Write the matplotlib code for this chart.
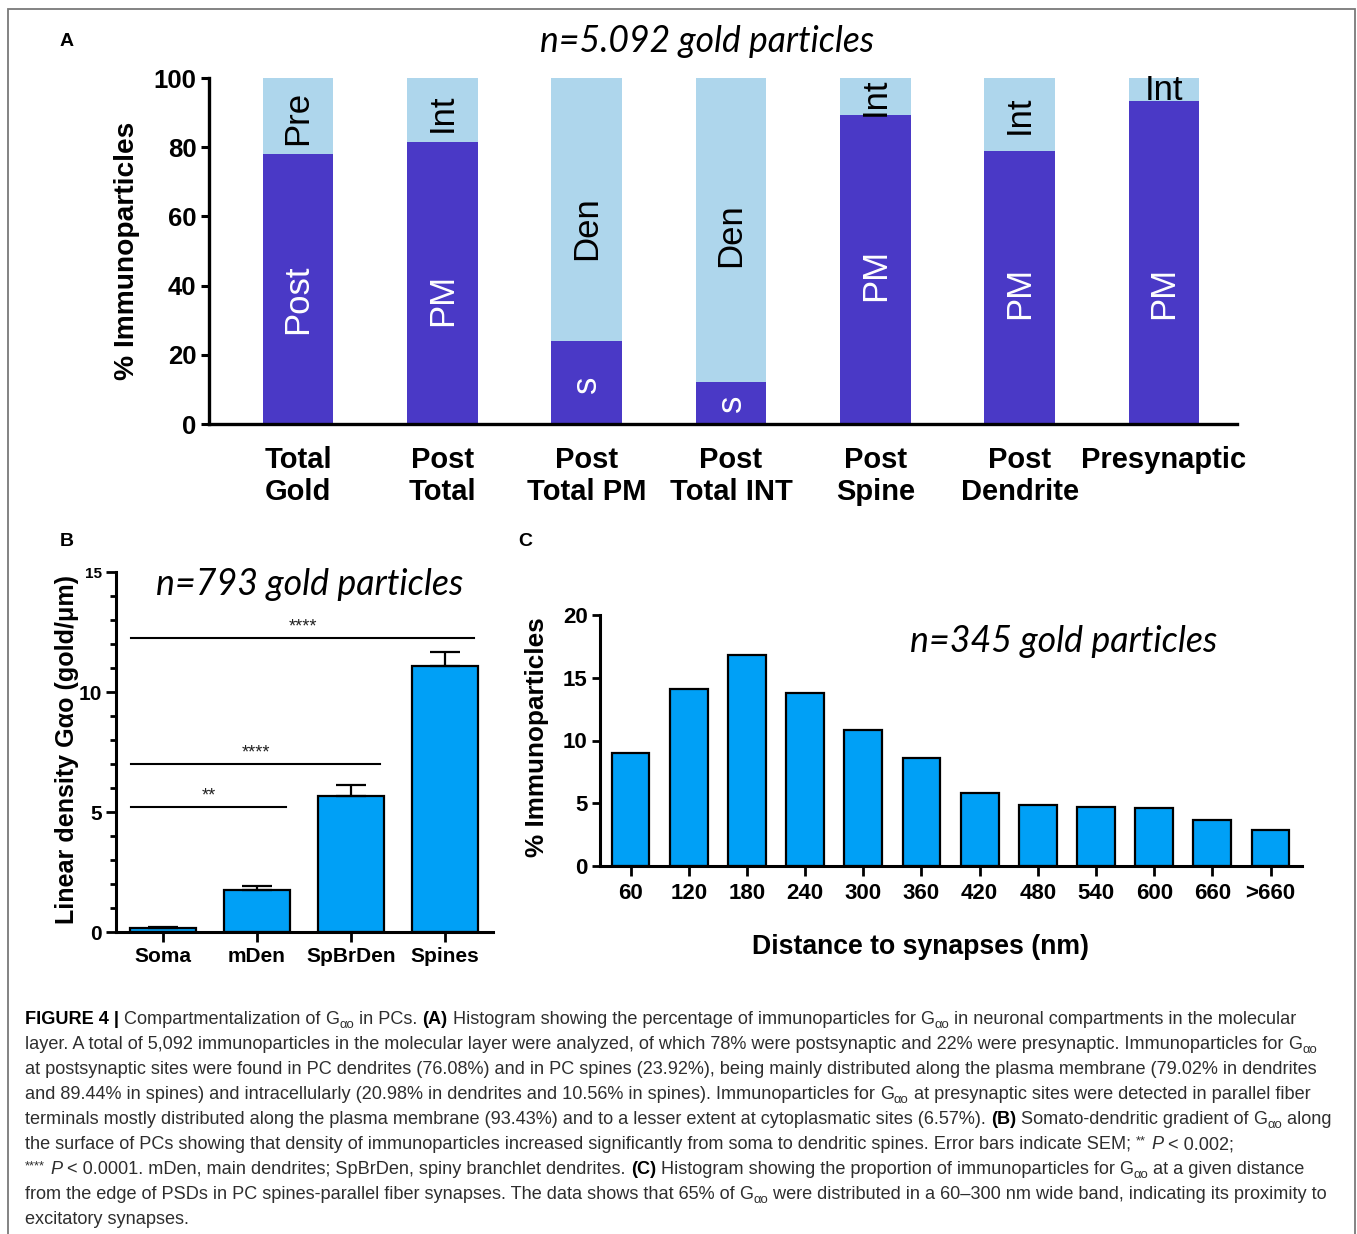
import re
import numpy as np
import matplotlib
matplotlib.use("Agg")
import matplotlib.pyplot as plt
from matplotlib import font_manager as fm
from matplotlib.patches import Rectangle

# ---------------- data ----------------
a_categories = ["Total\nGold", "Post\nTotal", "Post\nTotal PM", "Post\nTotal INT",
                "Post\nSpine", "Post\nDendrite", "Presynaptic"]
a_lower = [78.0, 81.5, 23.9, 12.1, 89.44, 79.02, 93.43]
a_lower_labels = ["Post", "PM", "s", "s", "PM", "PM", "PM"]
a_upper_labels = ["Pre", "Int", "Den", "Den", "Int", "Int", "Int"]

b_categories = ["Soma", "mDen", "SpBrDen", "Spines"]
b_means = [0.15, 1.75, 5.67, 11.1]
b_sem = [0.05, 0.15, 0.45, 0.55]
b_comparisons = [(0, 3, "****"), (0, 2, "****"), (0, 1, "**")]
b_comparison_levels = [12.25, 7.0, 5.2]

c_bins = ["60", "120", "180", "240", "300", "360", "420", "480", "540", "600", "660", ">660"]
c_percent = [9.0, 14.1, 16.8, 13.8, 10.8, 8.6, 5.8, 4.9, 4.7, 4.6, 3.7, 2.9]

caption_lines = [
    "<b>FIGURE 4 |</b> Compartmentalization of <G> in PCs. <b>(A)</b> Histogram showing the percentage of immunoparticles for <G> in neuronal compartments in the molecular",
    "layer. A total of 5,092 immunoparticles in the molecular layer were analyzed, of which 78% were postsynaptic and 22% were presynaptic. Immunoparticles for <G>",
    "at postsynaptic sites were found in PC dendrites (76.08%) and in PC spines (23.92%), being mainly distributed along the plasma membrane (79.02% in dendrites",
    "and 89.44% in spines) and intracellularly (20.98% in dendrites and 10.56% in spines). Immunoparticles for <G> at presynaptic sites were detected in parallel fiber",
    "terminals mostly distributed along the plasma membrane (93.43%) and to a lesser extent at cytoplasmatic sites (6.57%). <b>(B)</b> Somato-dendritic gradient of <G> along",
    "the surface of PCs showing that density of immunoparticles increased significantly from soma to dendritic spines. Error bars indicate SEM; <sup>**</sup> <i>P</i> < 0.002;",
    "<sup>****</sup> <i>P</i> < 0.0001. mDen, main dendrites; SpBrDen, spiny branchlet dendrites. <b>(C)</b> Histogram showing the proportion of immunoparticles for <G> at a given distance",
    "from the edge of PSDs in PC spines-parallel fiber synapses. The data shows that 65% of <G> were distributed in a 60\u2013300 nm wide band, indicating its proximity to",
    "excitatory synapses.",
]

# ---------------- styling ----------------
DARK = "#4a39c6"
LIGHT = "#aed6ec"
BLUE = "#00a0f6"
W, H = 1357, 1234

# vertical anchor (in % units) of the in-bar segment names
a_lower_label_at = [36, 36, 11.5, 6, 43, 38, 38]
a_upper_label_at = [88.5, 90, 56.5, 54.5, 94.5, 89.5, 96.5]

names = {f.name for f in fm.fontManager.ttflist}


def has_style(name, style):
    return any(f.name == name and f.style == style for f in fm.fontManager.ttflist)


SANS = "Liberation Sans" if "Liberation Sans" in names else "DejaVu Sans"
NARROW = "Liberation Sans Narrow" if "Liberation Sans Narrow" in names else SANS
ITALIC = next((n for n in ["Lato", "Open Sans", "Noto Sans", "Roboto", "Liberation Sans"]
               if has_style(n, "italic")), "DejaVu Sans")

plt.rcParams["font.family"] = [SANS, "DejaVu Sans"]

fig = plt.figure(figsize=(W / 100, H / 100), dpi=100)
R = fig.canvas.get_renderer()


def fx(px):
    return px / W


def fy(py):
    return 1 - py / H


def rect(l, t, r, b):
    return [l / W, 1 - b / H, (r - l) / W, (b - t) / H]


def fit(t, target, vertical=False):
    bb = t.get_window_extent(R)
    cur = bb.height if vertical else bb.width
    t.set_fontsize(t.get_fontsize() * target / cur)
    return t


def style_ticklabels(ax, size, which="both"):
    labels = []
    if which in ("both", "x"):
        labels += ax.get_xticklabels()
    if which in ("both", "y"):
        labels += ax.get_yticklabels()
    for lab in labels:
        lab.set_fontfamily(SANS)
        lab.set_fontweight("bold")
        lab.set_fontsize(size)


# frame around the figure
fig.add_artist(Rectangle((fx(8), fy(1250)), (1355 - 8) / W, (1250 - 9) / H,
                         transform=fig.transFigure, fill=False,
                         edgecolor="#7a7a7a", lw=1.3))

# ---------------- panel A ----------------
axA = fig.add_axes(rect(209, 78, 1237, 424))
xa = np.arange(len(a_categories))
lower = np.array(a_lower)
axA.bar(xa, lower, width=0.49, color=DARK, lw=0)
axA.bar(xa, 100 - lower, bottom=lower, width=0.49, color=LIGHT, lw=0)
axA.set_xlim(-0.617, 6.506)
axA.set_ylim(0, 100)
for s in ["top", "right"]:
    axA.spines[s].set_visible(False)
for s in ["left", "bottom"]:
    axA.spines[s].set_linewidth(2.4)
axA.set_yticks([0, 20, 40, 60, 80, 100])
axA.tick_params(axis="y", length=6, width=2.2, pad=3)
axA.set_xticks(xa)
axA.set_xticklabels(a_categories, linespacing=1.15)
axA.tick_params(axis="x", length=0, pad=16)
style_ticklabels(axA, 18.5, "y")
style_ticklabels(axA, 21, "x")
for i, lo in enumerate(lower):
    axA.text(i, a_lower_label_at[i], a_lower_labels[i], rotation=90, ha="center",
             va="center", color="white", fontsize=25, family=SANS)
    rot = 0 if (100 - lo) < 8 else 90
    axA.text(i, a_upper_label_at[i], a_upper_labels[i], rotation=rot, ha="center",
             va="center", color="black", fontsize=25, family=SANS)

fit(fig.text(fx(707), fy(42), "n=5.092 gold particles", ha="center", va="center",
             family=ITALIC, style="italic", fontsize=26), 335)
fit(fig.text(fx(127), fy(251), "% Immunoparticles", rotation=90, ha="center",
             va="center", fontweight="bold", fontsize=20), 258, vertical=True)
fig.text(fx(67), fy(42), "A", ha="center", va="center", fontweight="bold", fontsize=14)

# ---------------- panel B ----------------
axB = fig.add_axes(rect(116, 572, 493, 932))
xb = np.arange(len(b_categories))
axB.bar(xb, b_means, width=0.70, color=BLUE, edgecolor="black", lw=1.6, zorder=2)
axB.errorbar(xb, b_means, yerr=[np.zeros(len(b_sem)), b_sem], fmt="none",
             ecolor="black", elinewidth=1.6, capsize=11, capthick=1.6, zorder=3)
axB.set_xlim(-0.5, 3.51)
axB.set_ylim(0, 15)
for s in ["top", "right"]:
    axB.spines[s].set_visible(False)
for s in ["left", "bottom"]:
    axB.spines[s].set_linewidth(2.2)
axB.set_yticks([0, 5, 10, 15])
axB.set_yticks(np.arange(0, 16, 1), minor=True)
axB.tick_params(axis="y", which="major", length=7, width=2, pad=3)
axB.tick_params(axis="y", which="minor", length=4, width=2)
axB.set_xticks(xb)
axB.set_xticklabels(b_categories)
axB.tick_params(axis="x", length=7, width=2, pad=4)
style_ticklabels(axB, 15)
axB.get_yticklabels()[-1].set_fontsize(11)
for (i, j, lab), lev in zip(b_comparisons, b_comparison_levels):
    axB.plot([i - 0.34, j + 0.31], [lev, lev], color="black", lw=1.5, zorder=3)
    axB.text((i - 0.34 + j + 0.31) / 2, lev + 0.1, lab, ha="center", va="bottom",
             fontsize=13, color="#222222")

fit(fig.text(fx(310), fy(585), "n=793 gold particles", ha="center", va="center",
             family=ITALIC, style="italic", fontsize=26), 308)
fit(fig.text(fx(67), fy(750), "Linear density G\u03b1o (gold/\u03bcm)", rotation=90,
             ha="center", va="center", fontweight="bold", fontsize=18), 350, vertical=True)
fig.text(fx(67), fy(541), "B", ha="center", va="center", fontweight="bold", fontsize=14)

# ---------------- panel C ----------------
axC = fig.add_axes(rect(600, 615, 1302, 866))
xc = np.arange(len(c_bins))
axC.bar(xc, c_percent, width=0.65, color=BLUE, edgecolor="black", lw=1.6, zorder=2)
axC.set_xlim(-0.525, 11.54)
axC.set_ylim(0, 20)
for s in ["top", "right"]:
    axC.spines[s].set_visible(False)
for s in ["left", "bottom"]:
    axC.spines[s].set_linewidth(2.2)
axC.set_yticks([0, 5, 10, 15, 20])
axC.tick_params(axis="y", length=6, width=2, pad=3)
axC.set_xticks(xc)
axC.set_xticklabels(c_bins)
axC.tick_params(axis="x", length=7, width=2, pad=5)
style_ticklabels(axC, 16)

fit(fig.text(fx(1064), fy(642), "n=345 gold particles", ha="center", va="center",
             family=ITALIC, style="italic", fontsize=26), 308)
fit(fig.text(fx(537), fy(737), "% Immunoparticles", rotation=90, ha="center",
             va="center", fontweight="bold", fontsize=19), 240, vertical=True)
fit(fig.text(fx(921), fy(947), "Distance to synapses (nm)", ha="center", va="center",
             fontweight="bold", fontsize=19.5), 337)
fig.text(fx(525), fy(541), "C", ha="center", va="center", fontweight="bold", fontsize=14)

# ---------------- caption ----------------
CAP_COLOR = "#2e2e2e"


def seg_width(s, **kw):
    t = fig.text(0, 0, s + "|", **kw)
    w1 = t.get_window_extent(R).width
    t.set_text("|")
    w2 = t.get_window_extent(R).width
    t.remove()
    return w1 - w2


def pieces(line):
    out = []
    for tok in re.split(r"(<b>.*?</b>|<i>.*?</i>|<sup>.*?</sup>|<G>)", line):
        if not tok:
            continue
        if tok.startswith("<b>"):
            out.append((tok[3:-4], dict(fontweight="bold", color="black"), 1.0, 0))
        elif tok.startswith("<i>"):
            out.append((tok[3:-4], dict(style="italic", color=CAP_COLOR), 1.0, 0))
        elif tok.startswith("<sup>"):
            out.append((tok[5:-6], dict(color=CAP_COLOR), 0.72, -5))
        elif tok == "<G>":
            out.append(("G", dict(color=CAP_COLOR), 1.0, 0))
            out.append(("\u03b1o", dict(color=CAP_COLOR), 0.72, 4))
        else:
            out.append((tok, dict(color=CAP_COLOR), 1.0, 0))
    return out


def caption_line(line, size, base, draw=True):
    x = 25.0
    for s, kw, scale, dy in pieces(line):
        props = dict(family=[NARROW, "DejaVu Sans"], fontsize=size * scale, **kw)
        w = seg_width(s, **props)
        if draw:
            fig.text(fx(x), fy(base + dy), s, ha="left", va="baseline", **props)
        x += w
    return x - 25.0


cap_size = 12.0
cap_size *= 1280 / caption_line(caption_lines[0], cap_size, 0, draw=False)
for k, line in enumerate(caption_lines):
    caption_line(line, cap_size, 1023.5 + 25.1 * k)

fig.savefig("out.png", dpi=100)
